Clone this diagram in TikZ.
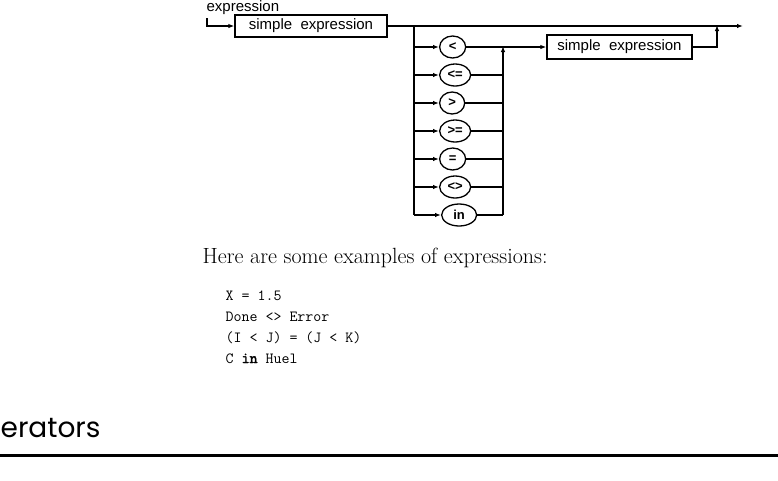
\documentclass[tikz,border=0pt]{standalone}
\usepackage{fontspec}
\setmainfont{Latin Modern Roman}
\newfontfamily\diagfont{Liberation Sans}
\newfontfamily\codefont{Latin Modern Mono}
\newfontfamily\codebold{Latin Modern Mono}[FakeBold=2.5]
\newfontfamily\headfont{Poppins}
\usetikzlibrary{arrows.meta,shapes.geometric}
\begin{document}
\begin{tikzpicture}[x=1pt,y=-1pt,
  line width=1.3pt,
  arr/.style={-{Latex[length=6pt,width=4.5pt]}},
  termbox/.style={draw,rectangle,inner sep=0pt,font=\diagfont\fontsize{15}{15}\selectfont},
  op/.style={draw,ellipse,anchor=west,minimum width=26pt,minimum height=22pt,inner sep=0pt,font=\diagfont\bfseries\fontsize{13}{13}\selectfont},
  codeline/.style={anchor=base west,inner sep=0pt,font=\codefont\fontsize{15.5}{15.5}\selectfont}]
\useasboundingbox (0,0) rectangle (778,480);
% label
\node[anchor=base west,inner sep=0pt,font=\diagfont\fontsize{15}{15}\selectfont] (lbl) at (206,11.5) {expression};
\coordinate (start) at (207,18);
\node[termbox,minimum width=152pt,minimum height=22pt] (se1) at (311,26) {simple\ \ expression};
\draw[arr] (start) |- (se1.west);
\coordinate (split) at (414,26);
\coordinate (join) at (717,26);
\coordinate (endp) at (743,26);
\draw[arr] (se1.east) -- (endp);
% operators
\node[op] (o1) at (439,47) {<};
\node[op,minimum width=31pt] (o2) at (439,75) {<=};
\node[op,minimum width=25pt] (o3) at (439,103) {>};
\node[op,minimum width=31pt] (o4) at (439,131) {>=};
\node[op] (o5) at (439,159) {=};
\node[op,minimum width=31pt] (o6) at (439,187) {<>};
\node[op,minimum width=35pt] (o7) at (441,215) {in};
\coordinate (splitb) at (414,215);
\coordinate (colt) at (503,47);
\coordinate (colb) at (503,215);
\draw (split) -- (splitb);
\foreach \n in {o1,o2,o3,o4,o5,o6,o7} {\draw[arr] (split |- \n) -- (\n.west);}
\foreach \n in {o2,o3,o4,o5,o6} {\draw (\n.east) -- (colt |- \n);}
\draw (o7.east) -- (colb);
\draw[arr] (colb) -- ([yshift=1pt]colt);
\node[termbox,minimum width=145pt,minimum height=24pt] (se2) at (619.5,47) {simple\ \ expression};
\draw[arr] (o1.east) -- (se2.west);
\draw[arr] (se2.east) -| ([yshift=1pt]join);
% text
\node[anchor=base west,inner sep=0pt,font=\fontsize{22}{22}\selectfont] (intro) at (202,263) {Here are some examples of expressions:};
\node[codeline] (c1) at (225,300) {X = 1.5};
\node[codeline] (c2) at (225,321) {Done <> Error};
\node[codeline] (c3) at (225,342) {(I < J) = (J < K)};
\node[codeline] (c4) at (225,363) {C {\codebold in} Huel};
\node[anchor=base west,inner sep=0pt,font=\headfont\fontsize{28}{28}\selectfont] (head) at (0,437) {erators};
\fill (0,453.5) rectangle (778,456.5);
\end{tikzpicture}
\end{document}
